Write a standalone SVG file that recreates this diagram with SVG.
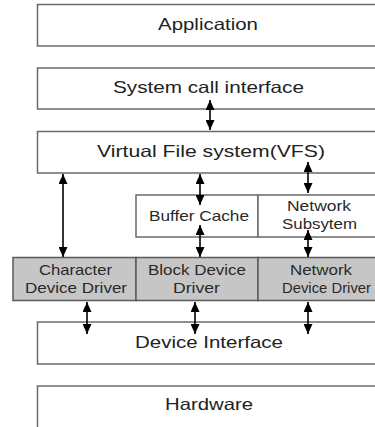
<svg xmlns="http://www.w3.org/2000/svg" width="375" height="427" viewBox="0 0 375 427">
<defs>
<style>
.box{fill:#ffffff;stroke:#6a6a6a;stroke-width:1.5}
.drv{fill:#c6c6c6;stroke:#5a5a5a;stroke-width:1.5}
.t{font-family:"Liberation Sans",Arial,sans-serif;font-size:16.5px;fill:#222;text-anchor:middle}
.s{font-family:"Liberation Sans",Arial,sans-serif;font-size:14.5px;fill:#2a2a2a;text-anchor:middle}
.c{stroke:#000;stroke-width:1.6;fill:none;marker-start:url(#ah);marker-end:url(#ah)}
</style>
<marker id="ah" viewBox="0 0 10 9" refX="10" refY="4.5" markerWidth="10" markerHeight="9" markerUnits="userSpaceOnUse" orient="auto-start-reverse">
<path d="M0,0 L10,4.5 L0,9 z" fill="#000"/>
</marker>
</defs>
<rect width="375" height="427" fill="#fff"/>
<g id="application">
<rect class="box" x="37.5" y="4.5" width="345" height="41.5"/>
<text class="t" x="208" y="30" textLength="100" lengthAdjust="spacingAndGlyphs">Application</text>
</g>
<g id="syscall">
<rect class="box" x="37.5" y="68" width="345" height="41"/>
<text class="t" x="208.5" y="93" textLength="191" lengthAdjust="spacingAndGlyphs">System call interface</text>
</g>
<g id="vfs">
<rect class="box" x="37.5" y="131.5" width="345" height="41.5"/>
<text class="t" x="211" y="157" textLength="228" lengthAdjust="spacingAndGlyphs">Virtual File system(VFS)</text>
</g>
<g id="buffer">
<rect class="box" x="136" y="195" width="122" height="42"/>
<text class="s" x="199" y="221" textLength="100" lengthAdjust="spacingAndGlyphs">Buffer Cache</text>
</g>
<g id="netsub">
<rect class="box" x="258" y="195" width="124" height="42"/>
<text class="s" x="319" y="211" textLength="64" lengthAdjust="spacingAndGlyphs">Network</text>
<text class="s" x="319.5" y="229" textLength="75" lengthAdjust="spacingAndGlyphs">Subsytem</text>
</g>
<g id="chardrv">
<rect class="drv" x="13" y="257.5" width="123" height="43"/>
<text class="s" x="75.5" y="274.5" textLength="73" lengthAdjust="spacingAndGlyphs">Character</text>
<text class="s" x="76" y="293" textLength="102" lengthAdjust="spacingAndGlyphs">Device Driver</text>
</g>
<g id="blockdrv">
<rect class="drv" x="136" y="257.5" width="122" height="43"/>
<text class="s" x="197" y="274.5" textLength="98" lengthAdjust="spacingAndGlyphs">Block Device</text>
<text class="s" x="196.5" y="293" textLength="47" lengthAdjust="spacingAndGlyphs">Driver</text>
</g>
<g id="netdrv">
<rect class="drv" x="258" y="257.5" width="124" height="43"/>
<text class="s" x="321" y="274.5" textLength="62" lengthAdjust="spacingAndGlyphs">Network</text>
<text class="s" x="326.5" y="293" textLength="89" lengthAdjust="spacingAndGlyphs">Device Driver</text>
</g>
<g id="devint">
<rect class="box" x="37.5" y="322" width="345" height="42"/>
<text class="t" x="209" y="348" textLength="148" lengthAdjust="spacingAndGlyphs">Device Interface</text>
</g>
<g id="hardware">
<rect class="box" x="37.5" y="386" width="345" height="45"/>
<text class="t" x="209" y="410" textLength="88" lengthAdjust="spacingAndGlyphs">Hardware</text>
</g>
<g id="connectors">
<line class="c" x1="210" y1="100" x2="210" y2="130"/>
<line class="c" x1="63" y1="174" x2="63" y2="257"/>
<line class="c" x1="200" y1="174" x2="200" y2="205"/>
<line class="c" x1="200" y1="225" x2="200" y2="257"/>
<line class="c" x1="308" y1="162" x2="308" y2="193"/>
<line class="c" x1="308" y1="230" x2="308" y2="257"/>
<line class="c" x1="87" y1="302" x2="87" y2="334"/>
<line class="c" x1="195" y1="302" x2="195" y2="334"/>
<line class="c" x1="308" y1="302" x2="308" y2="334"/>
</g>
</svg>
